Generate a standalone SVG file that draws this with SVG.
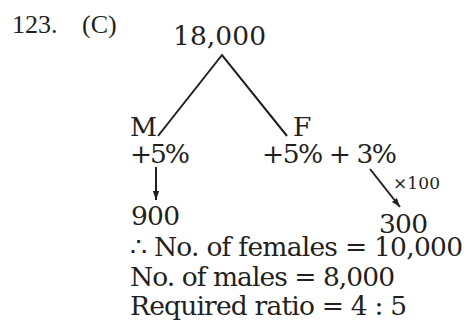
<svg xmlns="http://www.w3.org/2000/svg" width="469" height="325" viewBox="0 0 469 325">
<style>
.t{font-family:"DejaVu Serif","Liberation Serif",serif;font-size:26.5px;fill:#231f20}
.s{font-family:"DejaVu Serif","Liberation Serif",serif;font-size:17px;fill:#231f20}
.h{font-family:"Liberation Serif",serif;font-size:26px;fill:#231f20}
.l{stroke:#231f20;stroke-width:2;fill:none}
</style>
<defs>
<marker id="ah2" viewBox="0 0 10 10" refX="10" refY="5" markerWidth="9" markerHeight="9" orient="auto" markerUnits="userSpaceOnUse">
<path d="M0,1.5 L10,5 L0,8.5 Z" fill="#231f20"/>
</marker>
</defs>
<g id="label"><text class="h" x="12" y="33">123.</text><text class="h" x="82" y="33">(C)</text></g>
<g id="root"><text class="t" x="173" y="45" textLength="93">18,000</text></g>
<g id="male"><text class="t" x="130" y="136">M</text><text class="t" x="130" y="163" textLength="60">+5%</text></g>
<g id="female"><text class="t" x="293" y="136">F</text><text class="t" x="262" y="163" textLength="135">+5% + 3%</text></g>
<g id="m900"><text class="t" x="131" y="225" textLength="49">900</text></g>
<g id="f300"><text class="t" x="379" y="233" textLength="49">300</text></g>
<g id="mult"><text class="s" x="393" y="189" textLength="47">×100</text></g>
<g id="connectors">
<path class="l" d="M158,136 L222,55 L287,136"/>
<line class="l" x1="156" y1="167" x2="156" y2="200" marker-end="url(#ah2)"/>
<line class="l" x1="370" y1="169" x2="400" y2="207" marker-end="url(#ah2)"/>
</g>
<g id="result">
<text class="t" x="130" y="256" textLength="333">∴ No. of females = 10,000</text>
<text class="t" x="130" y="286" textLength="265">No. of males = 8,000</text>
<text class="t" x="130" y="315" textLength="277">Required ratio = 4 : 5</text>
</g>
</svg>
